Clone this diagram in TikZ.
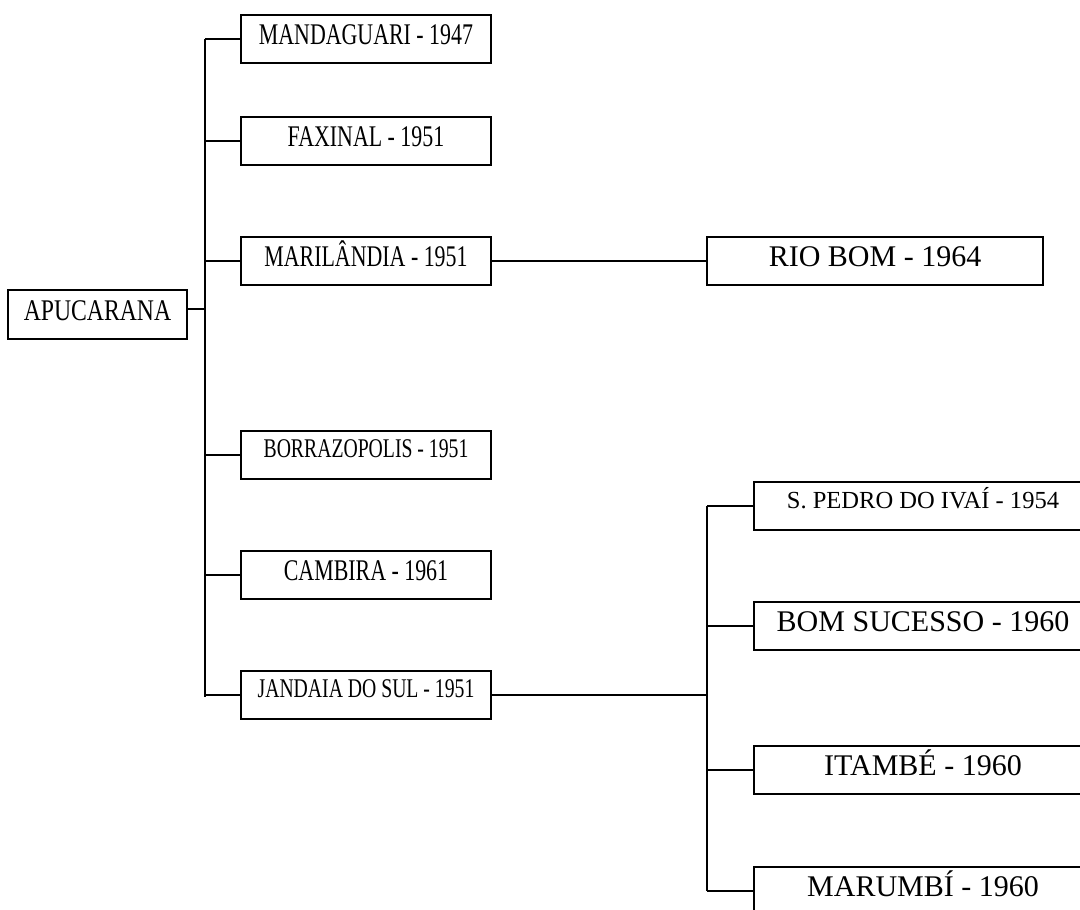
\documentclass[tikz,border=0pt]{standalone}
\usepackage{fontspec}
\setmainfont{Liberation Serif}
\usepackage{graphicx}
\usepackage{tikz}

\newcommand{\tightxt}[2][0.73]{\scalebox{#1}[1]{#2}}

\begin{document}
\begin{tikzpicture}[x=0.75pt,y=-0.75pt,line width=1.5pt,
  town/.style={draw,rectangle,inner sep=0pt,minimum height=36pt,
    text height=12pt,text depth=3.75pt,font=\fontsize{22.5}{24}\selectfont},
  small/.style={text height=10pt,text depth=7pt,font=\fontsize{20.25}{22}\selectfont},
  first/.style={minimum width=187.5pt},
  second/.style={minimum width=253.5pt}]
\useasboundingbox (0,0) rectangle (1080,909);
\clip (0,0) rectangle (1080,909);
\node at (97.5,314.5) (apu) [town,minimum width=134.25pt,minimum height=36.75pt] {\tightxt[0.79]{APUCARANA}};
\node at (366,39.5) (mand) [town,first] {\tightxt{MANDAGUARI - 1947}};
\node at (366,141.5) (fax) [town,first] {\tightxt{FAXINAL - 1951}};
\node at (366,261) (maril) [town,first] {\tightxt{MARILÂNDIA - 1951}};
\node at (366,455) (borra) [town,first,small] {\tightxt{BORRAZOPOLIS - 1951}};
\node at (366,574.5) (camb) [town,first] {\tightxt{CAMBIRA - 1961}};
\node at (366,695) (jand) [town,first,small] {\tightxt{JANDAIA DO SUL - 1951}};
\node at (875,261) (rio) [town,minimum width=252pt] {RIO BOM - 1964};
\node at (923,506) (spedro) [town,second,small,font=\fontsize{18.4}{20}\selectfont] {S. PEDRO DO IVAÍ - 1954};
\node at (923,626) (bomsuc) [town,second] {BOM SUCESSO - 1960};
\node at (923,770) (itambe) [town,second] {ITAMBÉ - 1960};
\node at (923,891) (marumbi) [town,second] {MARUMBÍ - 1960};
% first trunk
\coordinate (j1) at (205,309);
\coordinate (j1top) at (205,39.5);
\coordinate (j1bot) at (205,697);
\draw (apu.east |- j1) -- (j1);
\draw (j1top) -- (j1bot);
\draw (mand.west -| j1) -- (mand.west);
\draw (fax.west -| j1) -- (fax.west);
\draw (maril.west -| j1) -- (maril.west);
\draw (borra.west -| j1) -- (borra.west);
\draw (camb.west -| j1) -- (camb.west);
\draw (jand.west -| j1) -- (jand.west);
\draw (maril) -- (rio);
% second trunk
\coordinate (j2) at (707,695);
\coordinate (j2top) at (707,506);
\coordinate (j2bot) at (707,891);
\draw (jand.east) -- (j2);
\draw (j2top) -- (j2bot);
\draw (spedro.west -| j2) -- (spedro.west);
\draw (bomsuc.west -| j2) -- (bomsuc.west);
\draw (itambe.west -| j2) -- (itambe.west);
\draw (marumbi.west -| j2) -- (marumbi.west);
\end{tikzpicture}
\end{document}
